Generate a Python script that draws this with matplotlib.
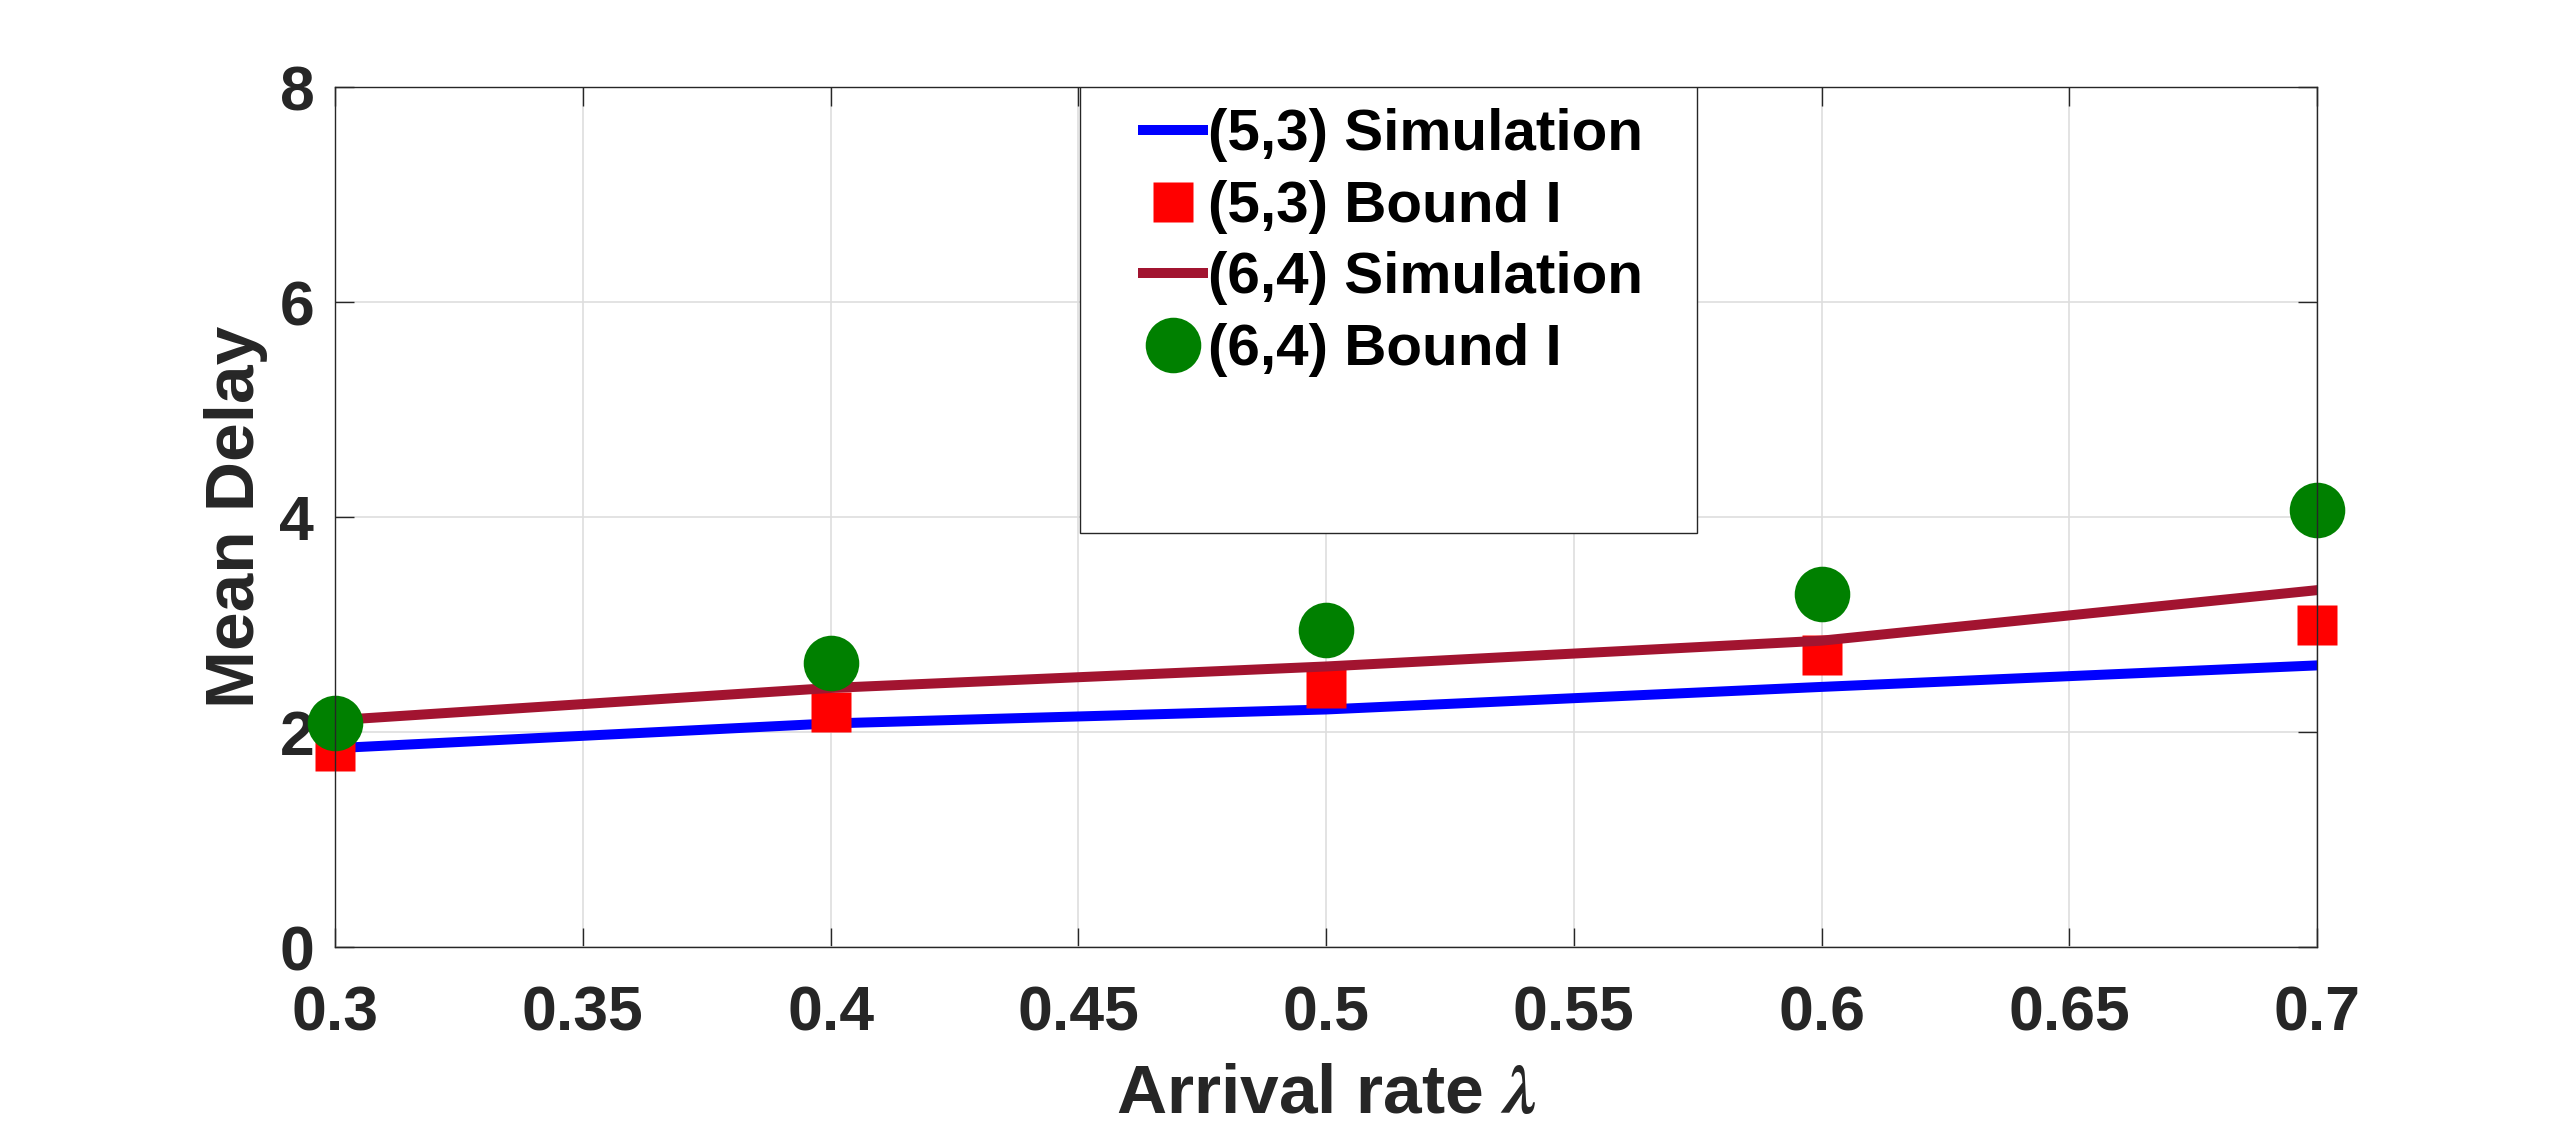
import numpy as np
import matplotlib
matplotlib.use("Agg")
import matplotlib.pyplot as plt
from matplotlib.patches import Rectangle

# Data
rate = [0.3, 0.4, 0.5, 0.6, 0.7]
sim_53 = [1.85, 2.08, 2.21, 2.42, 2.62]
bound_53 = [1.82, 2.19, 2.41, 2.72, 3.00]
sim_64 = [2.11, 2.41, 2.61, 2.85, 3.32]
bound_64 = [2.08, 2.64, 2.95, 3.28, 4.07]

xticks = [0.3, 0.35, 0.4, 0.45, 0.5, 0.55, 0.6, 0.65, 0.7]
xtick_labels = ["0.3", "0.35", "0.4", "0.45", "0.5", "0.55", "0.6", "0.65", "0.7"]
yticks = [0, 2, 4, 6, 8]

plt.rcParams['font.family'] = ['Liberation Sans', 'DejaVu Sans']
plt.rcParams['font.weight'] = 'bold'
plt.rcParams['mathtext.fontset'] = 'stix'

txt = '#262626'

fig = plt.figure(figsize=(25.6, 11.35), dpi=100)
ax = fig.add_axes([0.1309, 0.1656, 0.9051 - 0.1309, 0.9233 - 0.1656])

ax.plot(rate, sim_53, color='#0000ff', lw=7.2, label='(5,3) Simulation', zorder=3)
ax.plot(rate, bound_53, 's', color='#ff0000', ms=29, mec='none', label='(5,3) Bound I',
        zorder=4, clip_on=False)
ax.plot(rate, sim_64, color='#a21430', lw=7.2, label='(6,4) Simulation', zorder=5)
ax.plot(rate, bound_64, 'o', color='#008000', ms=40, mec='none', label='(6,4) Bound I',
        zorder=6, clip_on=False)

ax.set_xlim(0.3, 0.7)
ax.set_ylim(0, 8)
ax.set_xticks(xticks)
ax.set_xticklabels(xtick_labels)
ax.set_yticks(yticks)
ax.grid(True, color='#dedede', lw=1.2)
ax.set_axisbelow(True)

ax.tick_params(direction='in', length=14, width=1.0, colors=txt,
               top=True, right=True, labelsize=45)
ax.tick_params(axis='x', pad=27)
ax.tick_params(axis='y', pad=15)
for s in ax.spines.values():
    s.set_color(txt)
    s.set_linewidth(1.0)
    s.set_zorder(7)

ax.set_xlabel(r'Arrival rate $\lambda$', fontsize=50, fontweight='bold', color=txt, labelpad=14)
ax.set_ylabel('Mean Delay', fontsize=50, fontweight='bold', color=txt, labelpad=8)

leg = ax.legend(loc='upper left', bbox_to_anchor=(0.393, 1.009), frameon=False,
                fontsize=42, borderpad=0, labelspacing=0.3, handlelength=1.03,
                handletextpad=0.08, numpoints=1)
for t in leg.get_texts():
    t.set_color('black')
frame = Rectangle((0.376, 0.481), 0.687 - 0.376, 1.0 - 0.481, transform=ax.transAxes,
                  facecolor='white', edgecolor=txt, lw=1.0, zorder=8)
ax.add_patch(frame)
leg.set_zorder(9)

fig.savefig('out.png', dpi=100)
